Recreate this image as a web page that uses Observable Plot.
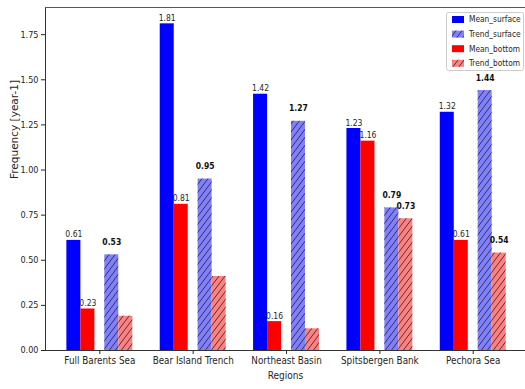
<!DOCTYPE html>
<html>
<head>
<meta charset="utf-8">
<script src="https://cdn.jsdelivr.net/npm/d3@7"></script>
<script src="https://cdn.jsdelivr.net/npm/@observablehq/plot@0.6"></script>
<style>
  body { margin: 0; background: #fff; }
  #wrap { position: relative; width: 525px; height: 389px; overflow: hidden; }
  #defs { position: absolute; width: 0; height: 0; }
  #legend { position: absolute; left: 446px; top: 12px; }
</style>
</head>
<body>
<svg id="defs" width="0" height="0">
  <defs>
    <pattern id="hatch" patternUnits="userSpaceOnUse" width="6" height="8">
      <path d="M-1.5,2 L1.5,-2 M0,8 L6,0 M4.5,10 L7.5,6" stroke="#1a1a1a" stroke-width="0.9" stroke-opacity="0.85"/>
    </pattern>
  </defs>
</svg>
<div id="wrap"></div>
<script>
// ---- data ----
const regions = ["Full Barents Sea", "Bear Island Trench", "Northeast Basin", "Spitsbergen Bank", "Pechora Sea"];
const meanSurface  = [0.61, 1.81, 1.42, 1.23, 1.32];
const meanBottom   = [0.23, 0.81, 0.16, 1.16, 0.61];
const trendSurface = [0.53, 0.95, 1.27, 0.79, 1.44];
const trendBottom  = [0.19, 0.41, 0.12, 0.73, 0.54];
const trendSurfaceLabelled = [true, true, true, true, true];
const trendBottomLabelled  = [false, false, false, true, true];
const seriesNames = ["Mean_surface", "Trend_surface", "Mean_bottom", "Trend_bottom"];
const yTicks = [0, 0.25, 0.5, 0.75, 1.0, 1.25, 1.5, 1.75];

// ---- layout / style ----
const FONT = '"DejaVu Sans Condensed", "DejaVu Sans", sans-serif';
const TEXT = "#262626";
const colors = {
  Mean_surface: "#0000ff",
  Mean_bottom: "#ff0000",
  Trend_surface: "#8080ff",
  Trend_bottom: "#ff8080"
};
const offsets = { Mean_surface: -0.278, Mean_bottom: -0.128, Trend_surface: 0.128, Trend_bottom: 0.278 };
const barW = 0.15;
const valuesOf = {
  Mean_surface: meanSurface,
  Mean_bottom: meanBottom,
  Trend_surface: trendSurface,
  Trend_bottom: trendBottom
};
const labelledOf = {
  Trend_surface: trendSurfaceLabelled,
  Trend_bottom: trendBottomLabelled
};

function rows(name) {
  return regions.map((r, i) => ({
    series: name,
    region: r,
    value: valuesOf[name][i],
    xc: i + offsets[name],
    x1: i + offsets[name] - barW / 2,
    x2: i + offsets[name] + barW / 2,
    labelled: name.startsWith("Mean") ? true : labelledOf[name][i]
  }));
}

const yMax = d3.max([...meanSurface, ...meanBottom, ...trendSurface, ...trendBottom]) * 1.05;
const xMin = -0.582, xMax = 4.56;

const marks = [];
for (const name of ["Mean_surface", "Mean_bottom", "Trend_surface", "Trend_bottom"]) {
  const data = rows(name);
  marks.push(Plot.rect(data, { x1: "x1", x2: "x2", y1: 0, y2: "value", fill: colors[name], inset: 0 }));
  if (name.startsWith("Trend")) {
    marks.push(Plot.rect(data, { x1: "x1", x2: "x2", y1: 0, y2: "value", fill: "url(#hatch)", inset: 0 }));
  }
}
// value labels
for (const name of ["Mean_surface", "Mean_bottom"]) {
  marks.push(Plot.text(rows(name), {
    x: "xc", y: "value", text: d => d.value.toFixed(2),
    lineAnchor: "bottom", dy: -3, fontSize: 8.5, fill: TEXT
  }));
}
for (const name of ["Trend_surface", "Trend_bottom"]) {
  marks.push(Plot.text(rows(name).filter(d => d.labelled), {
    x: "xc", y: "value", text: d => d.value.toFixed(2),
    lineAnchor: "bottom", dy: -10, fontSize: 8.5, fontWeight: "bold", fill: "#111"
  }));
}
// spines
marks.push(Plot.ruleX([xMin], { stroke: "#333", strokeWidth: 1 }));
marks.push(Plot.ruleY([0], { stroke: "#333", strokeWidth: 1 }));
marks.push(Plot.ruleY([yMax], { stroke: "#555", strokeWidth: 1 }));
// axis titles
marks.push(Plot.text(["Regions"], { frameAnchor: "bottom", dy: 28, fontSize: 10, fill: TEXT }));
marks.push(Plot.text(["Frequency [year-1]"], {
  frameAnchor: "left", dx: -31, rotate: -90, fontSize: 10.5, fill: TEXT,
  fontFamily: '"DejaVu Sans", sans-serif'
}));

const chart = Plot.plot({
  width: 525,
  height: 389,
  marginLeft: 45,
  marginRight: 0,
  marginTop: 7,
  marginBottom: 39,
  style: { fontFamily: FONT, fontSize: "9px", color: TEXT, background: "#fff" },
  x: {
    type: "linear",
    domain: [xMin, xMax],
    ticks: [0, 1, 2, 3, 4],
    tickFormat: i => regions[i],
    tickSize: 4,
    tickPadding: 3,
    label: null
  },
  y: {
    domain: [0, yMax],
    ticks: yTicks,
    tickFormat: d3.format(".2f"),
    tickSize: 4,
    tickPadding: 3,
    label: null
  },
  marks
});
document.getElementById("wrap").appendChild(chart);
// slightly larger region tick labels, as in the reference
d3.select(chart).selectAll('[aria-label="x-axis tick label"] text, [aria-label="x-axis"] text')
  .attr("font-size", "9.8px");

// ---- legend (inside the axes, upper right) ----
const ns = "http://www.w3.org/2000/svg";
const lg = document.createElementNS(ns, "svg");
lg.setAttribute("id", "legend");
lg.setAttribute("width", 79);
lg.setAttribute("height", 60);
lg.style.fontFamily = FONT;
const box = document.createElementNS(ns, "rect");
Object.entries({ x: 0.5, y: 0.5, width: 77, height: 58, rx: 2, fill: "#fff", "fill-opacity": 0.85, stroke: "#cccccc" })
  .forEach(([k, v]) => box.setAttribute(k, v));
lg.appendChild(box);
seriesNames.forEach((name, k) => {
  const cy = 7.5 + k * 14.6;
  const r = document.createElementNS(ns, "rect");
  Object.entries({ x: 6, y: cy - 3.5, width: 12, height: 7, fill: colors[name] }).forEach(([a, v]) => r.setAttribute(a, v));
  lg.appendChild(r);
  if (name.startsWith("Trend")) {
    const h = document.createElementNS(ns, "rect");
    Object.entries({ x: 6, y: cy - 3.5, width: 12, height: 7, fill: "url(#hatch)" }).forEach(([a, v]) => h.setAttribute(a, v));
    lg.appendChild(h);
  }
  const t = document.createElementNS(ns, "text");
  t.setAttribute("x", 23);
  t.setAttribute("y", cy);
  t.setAttribute("dy", "0.35em");
  t.setAttribute("font-size", "8.3px");
  t.setAttribute("fill", TEXT);
  t.textContent = name;
  lg.appendChild(t);
});
document.getElementById("wrap").appendChild(lg);
</script>
</body>
</html>
